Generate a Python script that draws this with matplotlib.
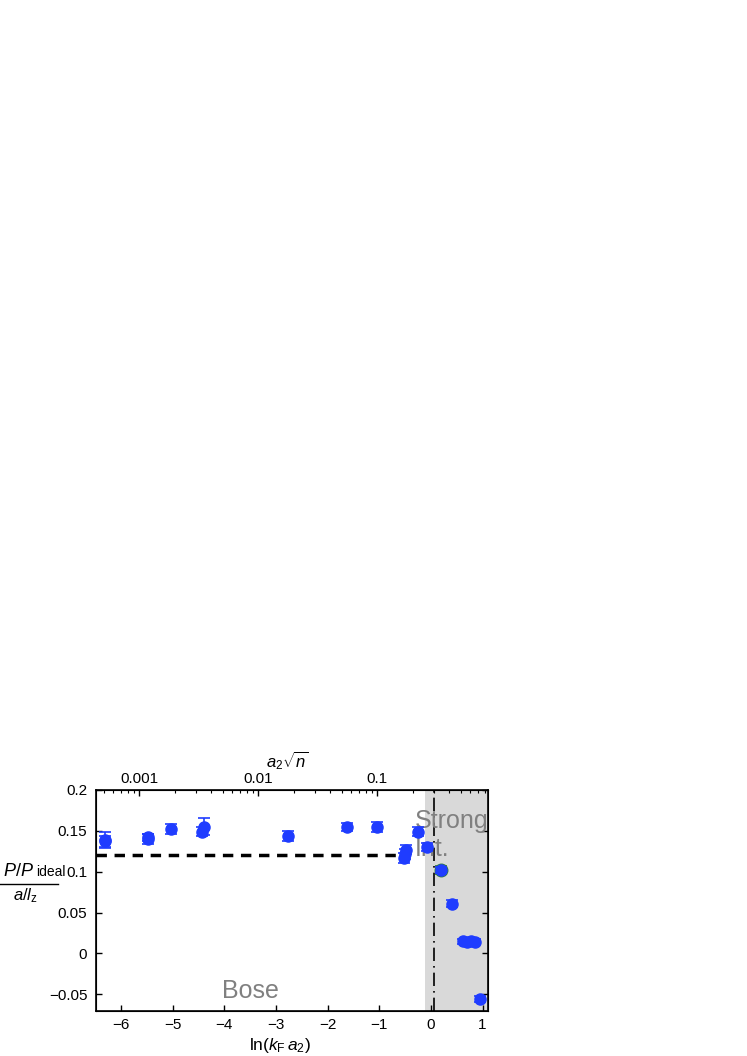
import matplotlib.pyplot as plt
import numpy as np

plt.rcParams['font.family'] = ['Liberation Sans', 'DejaVu Sans']
plt.rcParams['mathtext.fontset'] = 'custom'
plt.rcParams['mathtext.rm'] = 'Liberation Sans'
plt.rcParams['mathtext.it'] = 'Liberation Sans:italic'

# ln(kF a2), P/P_ideal / (a/l_z), error
lnkfa = [-6.30, -6.30, -5.48, -5.48, -5.03, -4.44, -4.40, -2.77, -1.63, -1.05,
         -0.48, -0.50, -0.52, -0.25, -0.07, 0.20, 0.41, 0.62, 0.70, 0.78, 0.86, 0.95]
pressure = [0.139, 0.137, 0.140, 0.142, 0.152, 0.149, 0.155, 0.144, 0.155, 0.155,
            0.127, 0.122, 0.117, 0.149, 0.130, 0.102, 0.061, 0.015, 0.014, 0.015, 0.014, -0.056]
err = [0.010, 0.007, 0.006, 0.004, 0.006, 0.006, 0.010, 0.006, 0.005, 0.006,
       0.006, 0.006, 0.006, 0.005, 0.005, 0.004, 0.004, 0.003, 0.003, 0.003, 0.003, 0.004]

# second measurement near the crossover (green error bars)
lnkfa_b = [0.20]
pressure_b = [0.102]
err_b = [0.005]

bose_level = 0.12
bose_end = -0.51
strong_start = -0.12
crossover = 0.05

top_ticks = [0.001, 0.01, 0.1]
top_labels = ["0.001", "0.01", "0.1"]

blue = "#1f3cff"

fig = plt.figure(figsize=(7.47, 10.56), dpi=100)
ax = fig.add_axes([0.128, 0.0426, 0.525, 0.2094])
ax.set_xlim(-6.49, 1.10)
ax.set_ylim(-0.0705, 0.2)

ax.axvspan(strong_start, 1.10, color="#d9d9d9", lw=0, zorder=0)
ax.axvline(crossover, color="black", lw=1.2, ls=(0, (8, 3, 1, 3)), zorder=1)
ax.plot([-6.49, bose_end], [bose_level, bose_level], color="black", lw=2.5,
        ls=(0, (3, 2.2)), zorder=2)

ax.errorbar(lnkfa_b, pressure_b, yerr=err_b, fmt="o", color="#2e7d32", ms=9,
            elinewidth=1.2, capsize=4, capthick=1.2, zorder=3)
ax.errorbar(lnkfa, pressure, yerr=err, fmt="o", color=blue, ms=8, ecolor=blue,
            elinewidth=1.2, capsize=4, capthick=1.2, zorder=4)

ax.text(-0.31, 0.1535, "Strong", color="#808080", fontsize=18, ha="left", va="baseline")
ax.text(-0.31, 0.1195, "Int.", color="#808080", fontsize=18, ha="left", va="baseline")
ax.text(-4.05, -0.0545, "Bose", color="#808080", fontsize=18, ha="left", va="baseline")

ax.set_xticks(np.arange(-6, 2, 1))
ax.set_yticks([-0.05, 0, 0.05, 0.1, 0.15, 0.2])
ax.set_yticklabels(["\u22120.05", "0", "0.05", "0.1", "0.15", "0.2"])
ax.tick_params(direction="in", length=4, width=1, labelsize=11, right=True, top=False)
ax.tick_params(axis="y", pad=6)
ax.tick_params(axis="x", pad=5)
for s in ax.spines.values():
    s.set_linewidth(1.2)
ax.set_xlabel(r"ln($k_{\mathrm{F}}\,a_2$)", fontsize=12.5)
ax.xaxis.set_label_coords(0.47, -0.115)

# top axis: a2 sqrt(n) = kF a2 / sqrt(4 pi)
c = np.sqrt(4 * np.pi)
ax2 = ax.twiny()
ax2.set_xlim(ax.get_xlim())
ax2.set_xticks([np.log(v * c) for v in top_ticks])
ax2.set_xticklabels(top_labels)
minor = []
for dec in [0.0001, 0.001, 0.01, 0.1]:
    for m in range(2, 10):
        p = np.log(m * dec * c)
        if -6.49 < p < 1.10:
            minor.append(p)
ax2.set_xticks(minor, minor=True)
ax2.tick_params(direction="in", length=4, width=1, labelsize=11, pad=3)
ax2.tick_params(which="minor", direction="in", length=2, width=0.8)
ax2.set_xlabel(r"$a_2\sqrt{n}$", fontsize=12)
ax2.xaxis.set_label_coords(0.49, 1.10)

# y label as a fraction
fig.text(0.004, 0.1705, r"$P/P$", fontsize=13, ha="left", va="baseline")
fig.text(0.048, 0.1705, "ideal", fontsize=10, ha="left", va="baseline")
fig.add_artist(plt.Line2D([0.0, 0.077], [0.1628, 0.1628], color="black", lw=1))
fig.text(0.017, 0.1475, r"$a/l_{\mathrm{z}}$", fontsize=12, ha="left", va="baseline")

fig.savefig("out.png", dpi=100)
